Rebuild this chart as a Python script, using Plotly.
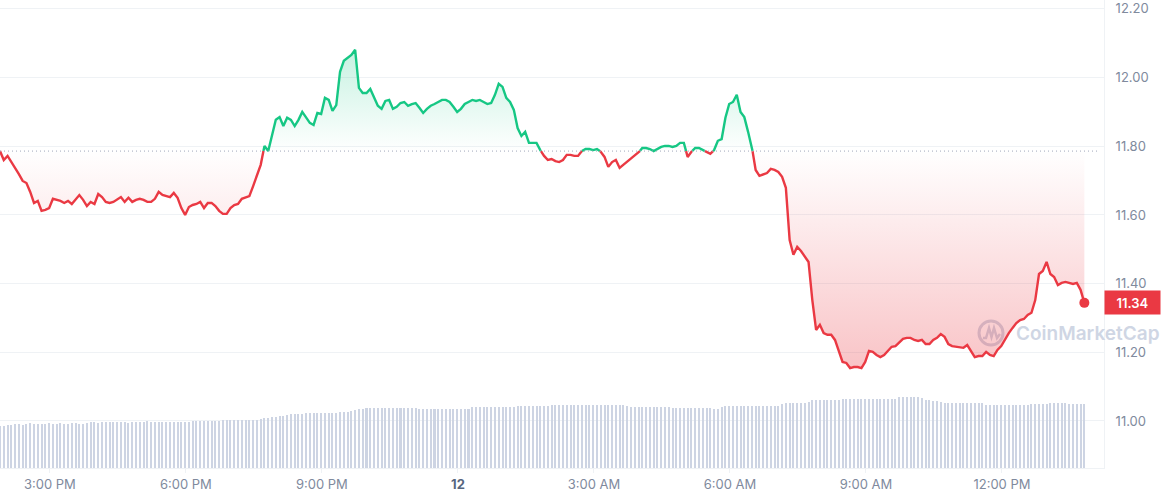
import pandas as pd
import plotly.graph_objects as go

# ---------------- data ----------------
start_time = "2024-03-11 13:54"
interval = "5min"

price = [
    11.786, 11.760, 11.772, 11.754, 11.740, 11.719, 11.699, 11.693, 11.667, 11.635, 11.641, 11.612,
    11.615, 11.620, 11.647, 11.644, 11.641, 11.635, 11.641, 11.632, 11.644, 11.658, 11.644, 11.626,
    11.638, 11.632, 11.661, 11.652, 11.638, 11.635, 11.638, 11.644, 11.652, 11.638, 11.650, 11.638,
    11.644, 11.647, 11.644, 11.638, 11.638, 11.647, 11.667, 11.658, 11.655, 11.652, 11.664, 11.650,
    11.620, 11.600, 11.623, 11.629, 11.632, 11.638, 11.620, 11.635, 11.635, 11.626, 11.612, 11.603,
    11.603, 11.620, 11.629, 11.632, 11.647, 11.650, 11.655, 11.684, 11.714, 11.746, 11.801, 11.786,
    11.833, 11.877, 11.885, 11.859, 11.883, 11.877, 11.859, 11.877, 11.900, 11.883, 11.868, 11.862,
    11.897, 11.894, 11.941, 11.935, 11.903, 11.920, 12.017, 12.049, 12.057, 12.066, 12.081, 11.970,
    11.955, 11.955, 11.967, 11.944, 11.918, 11.909, 11.932, 11.935, 11.909, 11.915, 11.926, 11.929,
    11.918, 11.923, 11.926, 11.912, 11.897, 11.909, 11.918, 11.923, 11.929, 11.935, 11.935, 11.929,
    11.915, 11.900, 11.909, 11.923, 11.929, 11.935, 11.932, 11.935, 11.929, 11.923, 11.926, 11.950,
    11.982, 11.973, 11.941, 11.929, 11.906, 11.853, 11.830, 11.842, 11.810, 11.810, 11.810, 11.789,
    11.772, 11.760, 11.763, 11.757, 11.754, 11.760, 11.775, 11.775, 11.772, 11.772, 11.786, 11.792,
    11.792, 11.789, 11.792, 11.784, 11.769, 11.740, 11.754, 11.760, 11.737, 11.746, 11.754, 11.763,
    11.772, 11.781, 11.795, 11.795, 11.792, 11.786, 11.792, 11.798, 11.801, 11.801, 11.798, 11.801,
    11.810, 11.810, 11.769, 11.784, 11.795, 11.795, 11.789, 11.784, 11.778, 11.789, 11.816, 11.821,
    11.883, 11.923, 11.929, 11.950, 11.900, 11.885, 11.842, 11.798, 11.731, 11.714, 11.719, 11.722,
    11.734, 11.731, 11.725, 11.711, 11.679, 11.527, 11.484, 11.507, 11.495, 11.478, 11.463, 11.352,
    11.265, 11.280, 11.256, 11.251, 11.251, 11.236, 11.201, 11.172, 11.169, 11.154, 11.157, 11.157,
    11.154, 11.172, 11.204, 11.201, 11.192, 11.186, 11.192, 11.204, 11.216, 11.218, 11.230, 11.239,
    11.242, 11.242, 11.236, 11.233, 11.236, 11.224, 11.224, 11.236, 11.242, 11.253, 11.245, 11.224,
    11.218, 11.216, 11.216, 11.213, 11.221, 11.204, 11.186, 11.189, 11.189, 11.201, 11.192, 11.189,
    11.207, 11.218, 11.239, 11.256, 11.271, 11.285, 11.294, 11.297, 11.309, 11.315, 11.352, 11.428,
    11.437, 11.463, 11.428, 11.419, 11.396, 11.402, 11.405, 11.402, 11.399, 11.402, 11.382, 11.344,
]

volume_m = [
    4.2, 4.2, 4.3, 4.3, 4.4, 4.4, 4.3, 4.4, 4.5, 4.4, 4.4, 4.4,
    4.4, 4.5, 4.4, 4.4, 4.5, 4.4, 4.4, 4.5, 4.5, 4.4, 4.4, 4.5,
    4.6, 4.6, 4.5, 4.6, 4.6, 4.6, 4.6, 4.6, 4.6, 4.6, 4.5, 4.6,
    4.6, 4.6, 4.6, 4.7, 4.6, 4.6, 4.6, 4.6, 4.6, 4.6, 4.6, 4.6,
    4.6, 4.6, 4.6, 4.7, 4.7, 4.7, 4.7, 4.7, 4.7, 4.7, 4.7, 4.8,
    4.8, 4.8, 4.8, 4.8, 4.8, 4.8, 4.8, 4.8, 4.8, 4.9, 5.0, 5.0,
    5.1, 5.1, 5.2, 5.2, 5.3, 5.4, 5.4, 5.4, 5.4, 5.5, 5.5, 5.5,
    5.5, 5.5, 5.5, 5.5, 5.5, 5.5, 5.6, 5.6, 5.6, 5.7, 5.8, 5.9,
    5.9, 6.0, 6.0, 6.0, 6.0, 6.0, 6.0, 6.0, 6.0, 6.0, 6.0, 6.0,
    6.0, 6.0, 6.0, 5.9, 5.9, 5.9, 5.9, 5.9, 5.9, 5.9, 5.9, 5.9,
    5.9, 5.9, 5.9, 5.9, 5.9, 6.1, 6.1, 6.1, 6.1, 6.1, 6.1, 6.1,
    6.1, 6.1, 6.1, 6.1, 6.1, 6.2, 6.2, 6.2, 6.2, 6.2, 6.2, 6.2,
    6.2, 6.2, 6.3, 6.3, 6.3, 6.3, 6.3, 6.3, 6.3, 6.3, 6.3, 6.3,
    6.3, 6.3, 6.3, 6.3, 6.3, 6.3, 6.3, 6.3, 6.3, 6.3, 6.2, 6.1,
    6.1, 6.1, 6.1, 6.1, 6.1, 6.1, 6.1, 6.1, 6.1, 6.1, 6.0, 6.0,
    6.0, 6.0, 6.0, 6.0, 6.0, 6.0, 6.0, 6.0, 6.0, 5.9, 5.9, 6.1,
    6.2, 6.2, 6.2, 6.2, 6.2, 6.2, 6.2, 6.2, 6.2, 6.2, 6.2, 6.2,
    6.2, 6.2, 6.2, 6.4, 6.5, 6.5, 6.5, 6.5, 6.5, 6.5, 6.6, 6.8,
    6.8, 6.8, 6.8, 6.8, 6.8, 6.8, 6.8, 6.9, 6.9, 6.9, 6.9, 6.9,
    6.9, 6.9, 6.9, 6.9, 6.9, 6.9, 6.9, 6.9, 6.9, 6.9, 7.1, 7.1,
    7.1, 7.1, 7.1, 7.1, 7.0, 6.8, 6.8, 6.7, 6.7, 6.6, 6.5, 6.5,
    6.5, 6.5, 6.5, 6.5, 6.5, 6.5, 6.5, 6.5, 6.5, 6.3, 6.3, 6.3,
    6.3, 6.3, 6.3, 6.3, 6.3, 6.3, 6.3, 6.3, 6.3, 6.4, 6.4, 6.4,
    6.4, 6.4, 6.5, 6.5, 6.5, 6.5, 6.5, 6.4, 6.4, 6.4, 6.4, 6.4,
]

tick_times = ["2024-03-11 15:00", "2024-03-11 18:00", "2024-03-11 21:00", "2024-03-12 00:00",
              "2024-03-12 03:00", "2024-03-12 06:00", "2024-03-12 09:00", "2024-03-12 12:00"]
tick_labels = ["3:00 PM", "6:00 PM", "9:00 PM", "<span style='color:#58667e'><b>12</b></span>",
               "3:00 AM", "6:00 AM", "9:00 AM", "12:00 PM"]
price_ticks = [11.0, 11.2, 11.4, 11.6, 11.8, 12.0, 12.2]

# ---------------- styling ----------------
GREEN = "#16c784"
RED = "#ea3943"
AXIS_FONT = dict(family="Inter, Roboto, sans-serif", size=13, color="#808a9d")
GRID = "#eff2f5"

times = list(pd.date_range(start_time, periods=len(price), freq=interval))
base = price[0]

# split the line at the baseline so each side gets its own colour
aug_t, aug_p = [], []
for i in range(len(price)):
    aug_t.append(times[i])
    aug_p.append(price[i])
    if i < len(price) - 1:
        a, b = price[i] - base, price[i + 1] - base
        if a * b < 0:
            frac = (base - price[i]) / (price[i + 1] - price[i])
            aug_t.append(times[i] + (times[i + 1] - times[i]) * frac)
            aug_p.append(base)

green_line = [p if p >= base else None for p in aug_p]
red_line = [p if p <= base else None for p in aug_p]
green_fill = [max(p, base) for p in aug_p]
red_fill = [min(p, base) for p in aug_p]
base_line = [base for _ in aug_p]

fig = go.Figure()

fig.add_trace(go.Bar(x=times, y=volume_m, yaxis="y", marker_color="#cdd4e3",
                     marker_line_width=0, width=160000, hoverinfo="skip"))

fig.add_trace(go.Scatter(x=aug_t, y=base_line, yaxis="y2", mode="lines",
                         line=dict(width=0), hoverinfo="skip"))
fig.add_trace(go.Scatter(x=aug_t, y=green_fill, yaxis="y2", mode="lines",
                         line=dict(width=0), fill="tonexty",
                         fillgradient=dict(type="vertical",
                                           colorscale=[[0, "rgba(22,199,132,0)"],
                                                       [1, "rgba(22,199,132,0.24)"]],
                                           start=base, stop=max(price)),
                         hoverinfo="skip"))
fig.add_trace(go.Scatter(x=aug_t, y=base_line, yaxis="y2", mode="lines",
                         line=dict(width=0), hoverinfo="skip"))
fig.add_trace(go.Scatter(x=aug_t, y=red_fill, yaxis="y2", mode="lines",
                         line=dict(width=0), fill="tonexty",
                         fillgradient=dict(type="vertical",
                                           colorscale=[[0, "rgba(234,57,67,0.3)"],
                                                       [1, "rgba(234,57,67,0)"]],
                                           start=min(price), stop=base),
                         hoverinfo="skip"))

fig.add_trace(go.Scatter(x=aug_t, y=green_line, yaxis="y2", mode="lines",
                         line=dict(color=GREEN, width=2.4), connectgaps=False))
fig.add_trace(go.Scatter(x=aug_t, y=red_line, yaxis="y2", mode="lines",
                         line=dict(color=RED, width=2.4), connectgaps=False))
fig.add_trace(go.Scatter(x=[times[-1]], y=[price[-1]], yaxis="y2", mode="markers",
                         marker=dict(color=RED, size=10)))

# dotted opening-price line
fig.add_shape(type="line", xref="paper", x0=0, x1=0.995, yref="y2", y0=base, y1=base,
              line=dict(color="#a1a7bb", width=1, dash="1px,3px"), layer="above")

# watermark
WM = "#cfd6e4"
fig.add_shape(type="circle", xref="paper", yref="paper",
              x0=979 / 1104, x1=1003 / 1104, y0=1 - 345 / 468, y1=1 - 321 / 468,
              line=dict(color=WM, width=3), layer="below")
wave = [(983, 338), (986, 338), (989, 328), (991.5, 337), (994, 328), (997, 338), (1000, 334)]
fig.add_shape(type="path", xref="paper", yref="paper",
              path="M " + " L ".join(f"{x / 1104:.5f},{1 - y / 468:.5f}" for x, y in wave),
              line=dict(color=WM, width=2.5), layer="below")
fig.add_annotation(xref="paper", yref="paper", x=1014 / 1104, y=1 - 333 / 468,
                   xanchor="left", yanchor="middle", showarrow=False,
                   text="CoinMarketCap",
                   font=dict(family="Inter, sans-serif", size=19, color=WM, weight=600))

# last price tag
fig.add_annotation(xref="paper", x=1, yref="y2", y=price[-1], xanchor="left",
                   yanchor="middle", showarrow=False, text=f"{price[-1]:.2f}",
                   bgcolor=RED, width=53, height=21, borderpad=1, align="center",
                   font=dict(family="Inter, sans-serif", size=13, color="white", weight=600))

x_end = times[0] + pd.Timedelta(minutes=1461)
fig.update_layout(
    width=1161, height=500,
    margin=dict(l=0, r=57, t=0, b=32),
    paper_bgcolor="white", plot_bgcolor="white",
    showlegend=False,
    bargap=0,
    xaxis=dict(range=[times[0], x_end], tickvals=tick_times, ticktext=tick_labels,
               tickfont=AXIS_FONT, showgrid=False, zeroline=False,
               ticks="outside", ticklen=4, tickcolor=GRID,
               showline=True, linecolor=GRID, linewidth=1),
    yaxis=dict(range=[0, 46.8], visible=False, showgrid=False, fixedrange=True),
    yaxis2=dict(overlaying="y", side="right", range=[10.863, 12.226],
                tickvals=price_ticks, ticktext=[f"{v:.2f}" for v in price_ticks],
                tickfont=AXIS_FONT, showgrid=True, gridcolor=GRID, gridwidth=1,
                zeroline=False, showline=True, linecolor=GRID,
                ticks="outside", ticklen=8, tickcolor="rgba(0,0,0,0)"),
)

fig.write_html("out.html", config={"displayModeBar": False},
               post_script="document.body.style.margin='0';")
